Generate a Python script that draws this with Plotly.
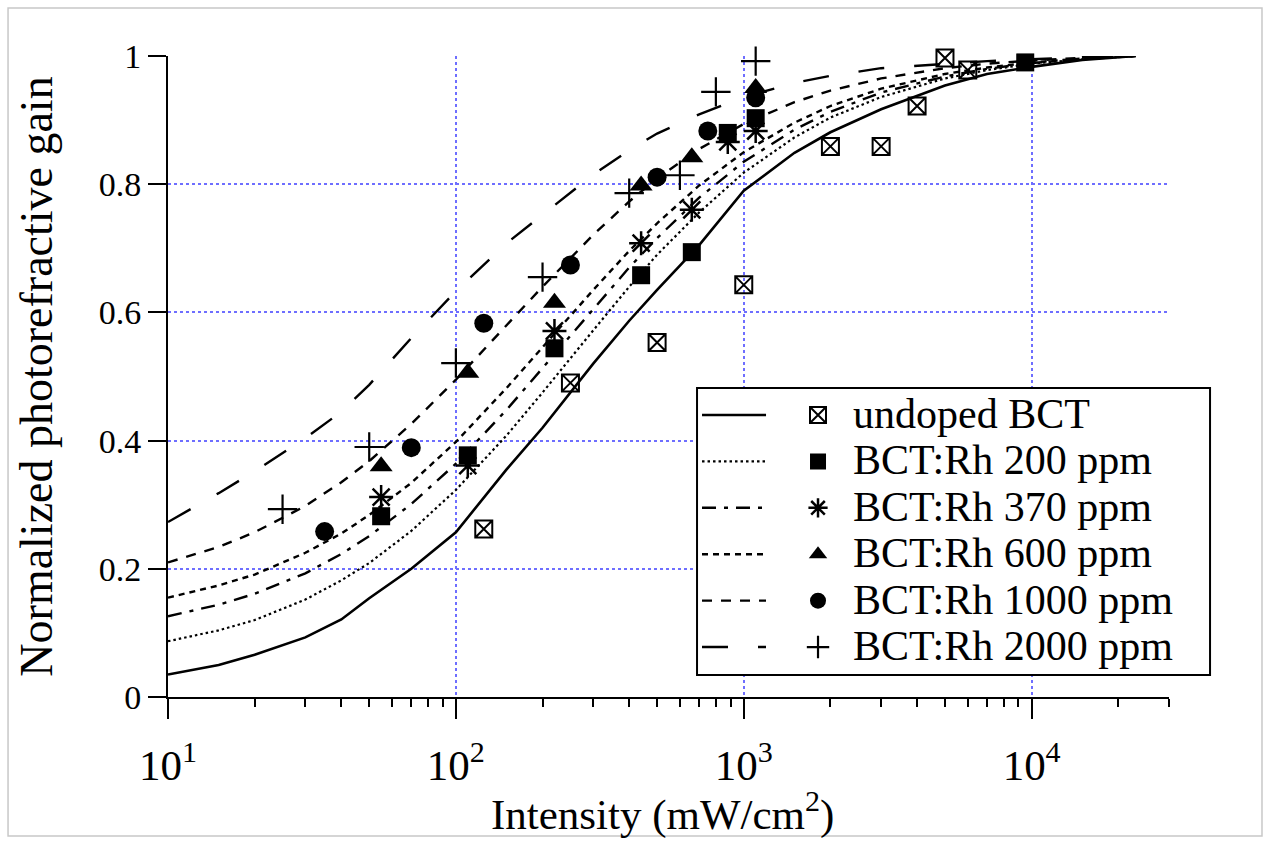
import math
import plotly.graph_objects as go

# ---------------- data ----------------
I_curve = [10, 15, 20, 30, 40, 50, 70, 100, 150, 200, 300, 400, 500, 700,
           1000, 1500, 2000, 3000, 5000, 7000, 10000, 15000, 23000]

curve_undoped = [0.035, 0.050, 0.066, 0.093, 0.121, 0.154, 0.200, 0.257, 0.355, 0.420,
                 0.520, 0.587, 0.635, 0.705, 0.790, 0.849, 0.881, 0.917, 0.954, 0.972,
                 0.983, 0.994, 1.0]
curve_200 = [0.087, 0.104, 0.120, 0.152, 0.182, 0.209, 0.259, 0.323, 0.408, 0.475,
             0.572, 0.640, 0.690, 0.756, 0.818, 0.873, 0.904, 0.936, 0.965, 0.978,
             0.988, 0.995, 1.0]
curve_370 = [0.126, 0.144, 0.161, 0.193, 0.223, 0.251, 0.301, 0.364, 0.448, 0.513,
             0.606, 0.670, 0.716, 0.779, 0.835, 0.885, 0.913, 0.943, 0.968, 0.980,
             0.989, 0.995, 1.0]
curve_600 = [0.155, 0.174, 0.191, 0.225, 0.255, 0.284, 0.334, 0.398, 0.482, 0.545,
             0.635, 0.696, 0.739, 0.798, 0.850, 0.896, 0.922, 0.949, 0.972, 0.982,
             0.990, 0.996, 1.0]
curve_1000 = [0.210, 0.234, 0.257, 0.298, 0.335, 0.368, 0.426, 0.495, 0.580, 0.640,
              0.721, 0.773, 0.809, 0.855, 0.894, 0.928, 0.946, 0.965, 0.981, 0.988,
              0.993, 0.997, 1.0]
curve_2000 = [0.273, 0.318, 0.352, 0.404, 0.445, 0.487, 0.560, 0.633, 0.708, 0.752,
              0.815, 0.853, 0.879, 0.909, 0.936, 0.958, 0.969, 0.981, 0.988, 0.992,
              0.995, 0.998, 1.0]

I_undoped = [125, 250, 500, 1000, 2000, 3000, 4000, 5000, 6000]
g_undoped = [0.262, 0.490, 0.553, 0.643, 0.859, 0.859, 0.922, 0.997, 0.978]
I_200 = [55, 110, 220, 440, 660, 880, 1100, 9500]
g_200 = [0.282, 0.377, 0.544, 0.658, 0.694, 0.880, 0.903, 0.990]
I_370 = [55, 110, 220, 440, 660, 880, 1100]
g_370 = [0.312, 0.361, 0.571, 0.708, 0.760, 0.866, 0.883]
I_600 = [55, 110, 220, 440, 660, 1100]
g_600 = [0.360, 0.506, 0.615, 0.798, 0.842, 0.950]
I_1000 = [35, 70, 125, 250, 500, 750, 1100]
g_1000 = [0.258, 0.389, 0.583, 0.674, 0.811, 0.883, 0.935]
I_2000 = [25, 50, 100, 200, 400, 600, 800, 1100]
g_2000 = [0.293, 0.390, 0.521, 0.655, 0.786, 0.814, 0.944, 0.992]

names = ["undoped BCT", "BCT:Rh 200 ppm", "BCT:Rh 370 ppm",
         "BCT:Rh 600 ppm", "BCT:Rh 1000 ppm", "BCT:Rh 2000 ppm"]
x_tick_vals = [10, 100, 1000, 10000]
x_tick_text = ["10<sup>1</sup>", "10<sup>2</sup>", "10<sup>3</sup>", "10<sup>4</sup>"]
y_tick_vals = [0, 0.2, 0.4, 0.6, 0.8, 1.0]
y_tick_text = ["0", "0.2", "0.4", "0.6", "0.8", "1"]
x_title = "Intensity (mW/cm<sup>2</sup>)"
y_title = "Normalized photorefractive gain"

# ---------------- styles ----------------
FONT = "Liberation Serif"
curves = [curve_undoped, curve_200, curve_370, curve_600, curve_1000, curve_2000]
pts_x = [I_undoped, I_200, I_370, I_600, I_1000, I_2000]
pts_y = [g_undoped, g_200, g_370, g_600, g_1000, g_2000]
dashes = ["solid", "2.5px,3px", "14px,8px,4px,8px", "6px,5px", "10px,9px", "26px,30px"]
line_w = [2.6, 2.2, 2.4, 2.4, 2.4, 2.4]
symbols = ["square-x-open", "square", "asterisk-open", "triangle-up", "circle", "cross-thin-open"]
msizes = [17, 18, 20, 20, 19, 21]
mline = [2, 0, 2.5, 0, 0, 2.2]

fig = go.Figure()
# model curves -> first legend (line samples only)
for k in range(6):
    fig.add_trace(go.Scatter(
        x=I_curve, y=curves[k], mode="lines", name=" ", legend="legend",
        line=dict(color="black", width=line_w[k], dash=dashes[k]),
        hoverinfo="skip"))
# measured points -> second legend (symbol + label)
for k in range(6):
    fig.add_trace(go.Scatter(
        x=pts_x[k], y=pts_y[k], mode="markers", legend="legend2",
        name='<span style="font-size:42px">' + names[k] + "</span>",
        cliponaxis=False,
        marker=dict(symbol=symbols[k], size=msizes[k], color="black",
                    line=dict(color="black", width=mline[k]))))

grid_col = "rgb(110,110,255)"
minor_vals = [m * 10 ** e for e in range(1, 5) for m in range(2, 10) if m * 10 ** e <= 30000]

leg_common = dict(yanchor="top", xanchor="left", y=0.484,
                  bgcolor="rgba(0,0,0,0)", borderwidth=0,
                  font=dict(family=FONT, size=33.4, color="black"),
                  tracegroupgap=0)

fig.update_layout(
    width=1270, height=843,
    margin=dict(l=168, r=101, t=56, b=146),
    paper_bgcolor="white", plot_bgcolor="white",
    font=dict(family=FONT, color="black"),
    showlegend=True,
    legend=dict(x=0.5285, itemwidth=64, **leg_common),
    legend2=dict(x=0.6144, itemwidth=60, **leg_common),
    xaxis=dict(type="log", range=[1, math.log10(30000)],
               showline=True, linecolor="black", linewidth=2,
               ticks="outside", ticklen=20, tickwidth=2, tickcolor="black",
               tickmode="array", tickvals=x_tick_vals, ticktext=x_tick_text,
               tickfont=dict(size=43), ticklabelstandoff=9,
               showgrid=True, gridcolor=grid_col, griddash="dot", gridwidth=2,
               zeroline=False,
               minor=dict(tickmode="array", tickvals=minor_vals, ticks="outside",
                          ticklen=8, tickwidth=1.5, tickcolor="black", showgrid=False)),
    yaxis=dict(range=[0, 1], showline=True, linecolor="black", linewidth=2,
               ticks="outside", ticklen=18, tickwidth=2, tickcolor="black",
               tickmode="array", tickvals=y_tick_vals, ticktext=y_tick_text,
               tickfont=dict(size=34),
               showgrid=True, gridcolor=grid_col, griddash="dot", gridwidth=2,
               zeroline=False,
               title=dict(text=y_title, font=dict(size=46), standoff=32)),
    annotations=[dict(text=x_title, xref="paper", yref="paper",
                      x=0.4945, y=-0.179, xanchor="center", yanchor="middle",
                      showarrow=False, font=dict(family=FONT, size=43, color="black"))],
    shapes=[dict(type="rect", xref="paper", yref="paper",
                 x0=-0.1598, x1=1.0929, y0=-0.2168, y1=1.0749,
                 line=dict(color="rgb(200,200,200)", width=1.5), layer="below"),
            dict(type="rect", xref="paper", yref="paper",
                 x0=0.5285, x1=1.041, y0=0.0343, y1=0.482,
                 fillcolor="white", line=dict(color="black", width=2), layer="above")],
)

fig.write_html("out.html", config={"displayModeBar": False})
